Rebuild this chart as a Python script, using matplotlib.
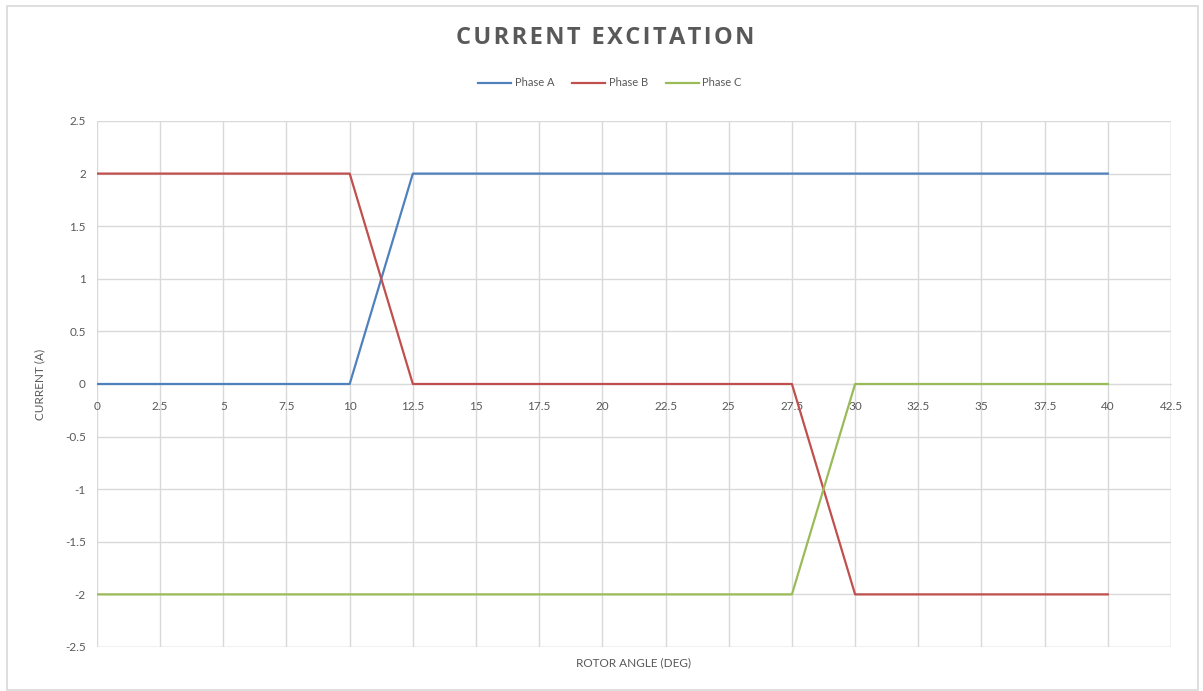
import matplotlib
matplotlib.use("Agg")
import matplotlib.pyplot as plt
from matplotlib.patches import Rectangle

# Rotor angle samples (degrees) and phase currents (A)
angle = [0, 2.5, 5, 7.5, 10, 12.5, 15, 17.5, 20, 22.5, 25, 27.5, 30, 32.5, 35, 37.5, 40]
phase_a = [0, 0, 0, 0, 0, 2, 2, 2, 2, 2, 2, 2, 2, 2, 2, 2, 2]
phase_b = [2, 2, 2, 2, 2, 0, 0, 0, 0, 0, 0, 0, -2, -2, -2, -2, -2]
phase_c = [-2, -2, -2, -2, -2, -2, -2, -2, -2, -2, -2, -2, 0, 0, 0, 0, 0]

x_ticks = [0, 2.5, 5, 7.5, 10, 12.5, 15, 17.5, 20, 22.5, 25, 27.5, 30, 32.5, 35, 37.5, 40, 42.5]
x_tick_labels = ["0", "2.5", "5", "7.5", "10", "12.5", "15", "17.5", "20", "22.5", "25",
                 "27.5", "30", "32.5", "35", "37.5", "40", "42.5"]
y_ticks = [-2.5, -2, -1.5, -1, -0.5, 0, 0.5, 1, 1.5, 2, 2.5]
y_tick_labels = ["-2.5", "-2", "-1.5", "-1", "-0.5", "0", "0.5", "1", "1.5", "2", "2.5"]

series = [("Phase A", phase_a, "#4F81BD"),
          ("Phase B", phase_b, "#C0504D"),
          ("Phase C", phase_c, "#9BBB59")]

plt.rcParams["font.family"] = ["Lato", "DejaVu Sans"]
text_color = "#595959"
grid_color = "#D9D9D9"

fig = plt.figure(figsize=(12.03, 6.91), dpi=100)
fig.patches.append(Rectangle((0.006, 0.002), 0.99, 0.989, transform=fig.transFigure,
                             fill=False, edgecolor="#D9D9D9", linewidth=1.2))

ax = fig.add_axes([0.0806, 0.0637, 0.8928, 0.7612])
for name, values, color in series:
    ax.plot(angle, values, color=color, linewidth=1.6, label=name, zorder=3)

ax.set_xlim(0, 42.5)
ax.set_ylim(-2.5, 2.5)
ax.set_xticks(x_ticks)
ax.set_xticklabels(x_tick_labels)
ax.set_yticks(y_ticks)
ax.set_yticklabels(y_tick_labels)
ax.grid(True, color=grid_color, linewidth=1.0, zorder=0)
ax.set_axisbelow(True)

for side in ("top", "right", "left"):
    ax.spines[side].set_visible(False)
ax.spines["bottom"].set_position(("data", 0))
ax.spines["bottom"].set_color(grid_color)
ax.tick_params(axis="both", length=0, colors=text_color, labelsize=8.5)
ax.tick_params(axis="x", pad=12)
ax.tick_params(axis="y", pad=8)

# frame edges drawn as gridlines at the limits
ax.axhline(-2.5, color=grid_color, linewidth=1.0, zorder=0)
ax.axvline(42.5, color=grid_color, linewidth=1.0, zorder=0)

ax.set_ylabel("CURRENT (A)", color=text_color, fontsize=8.5)
ax.set_xlabel("ROTOR ANGLE (DEG)", color=text_color, fontsize=8.5)
ax.xaxis.set_label_coords(0.5, -0.02)
ax.yaxis.set_label_coords(-0.048, 0.5)

# title with a little letter spacing
title = "CURRENT EXCITATION"
spaced_title = "\u200a".join(title)
fig.text(0.503, 0.945, spaced_title,
         ha="center", va="center", fontsize=17, fontweight="bold", color=text_color,
         family=["Open Sans", "DejaVu Sans"])

handles, labels = ax.get_legend_handles_labels()
fig.legend(handles, labels, loc="center", bbox_to_anchor=(0.507, 0.88), ncol=3,
           frameon=False, fontsize=8, labelcolor=text_color, handlelength=3.0,
           handletextpad=0.3, columnspacing=1.6)

fig.savefig("out.png", dpi=100, facecolor="white")
